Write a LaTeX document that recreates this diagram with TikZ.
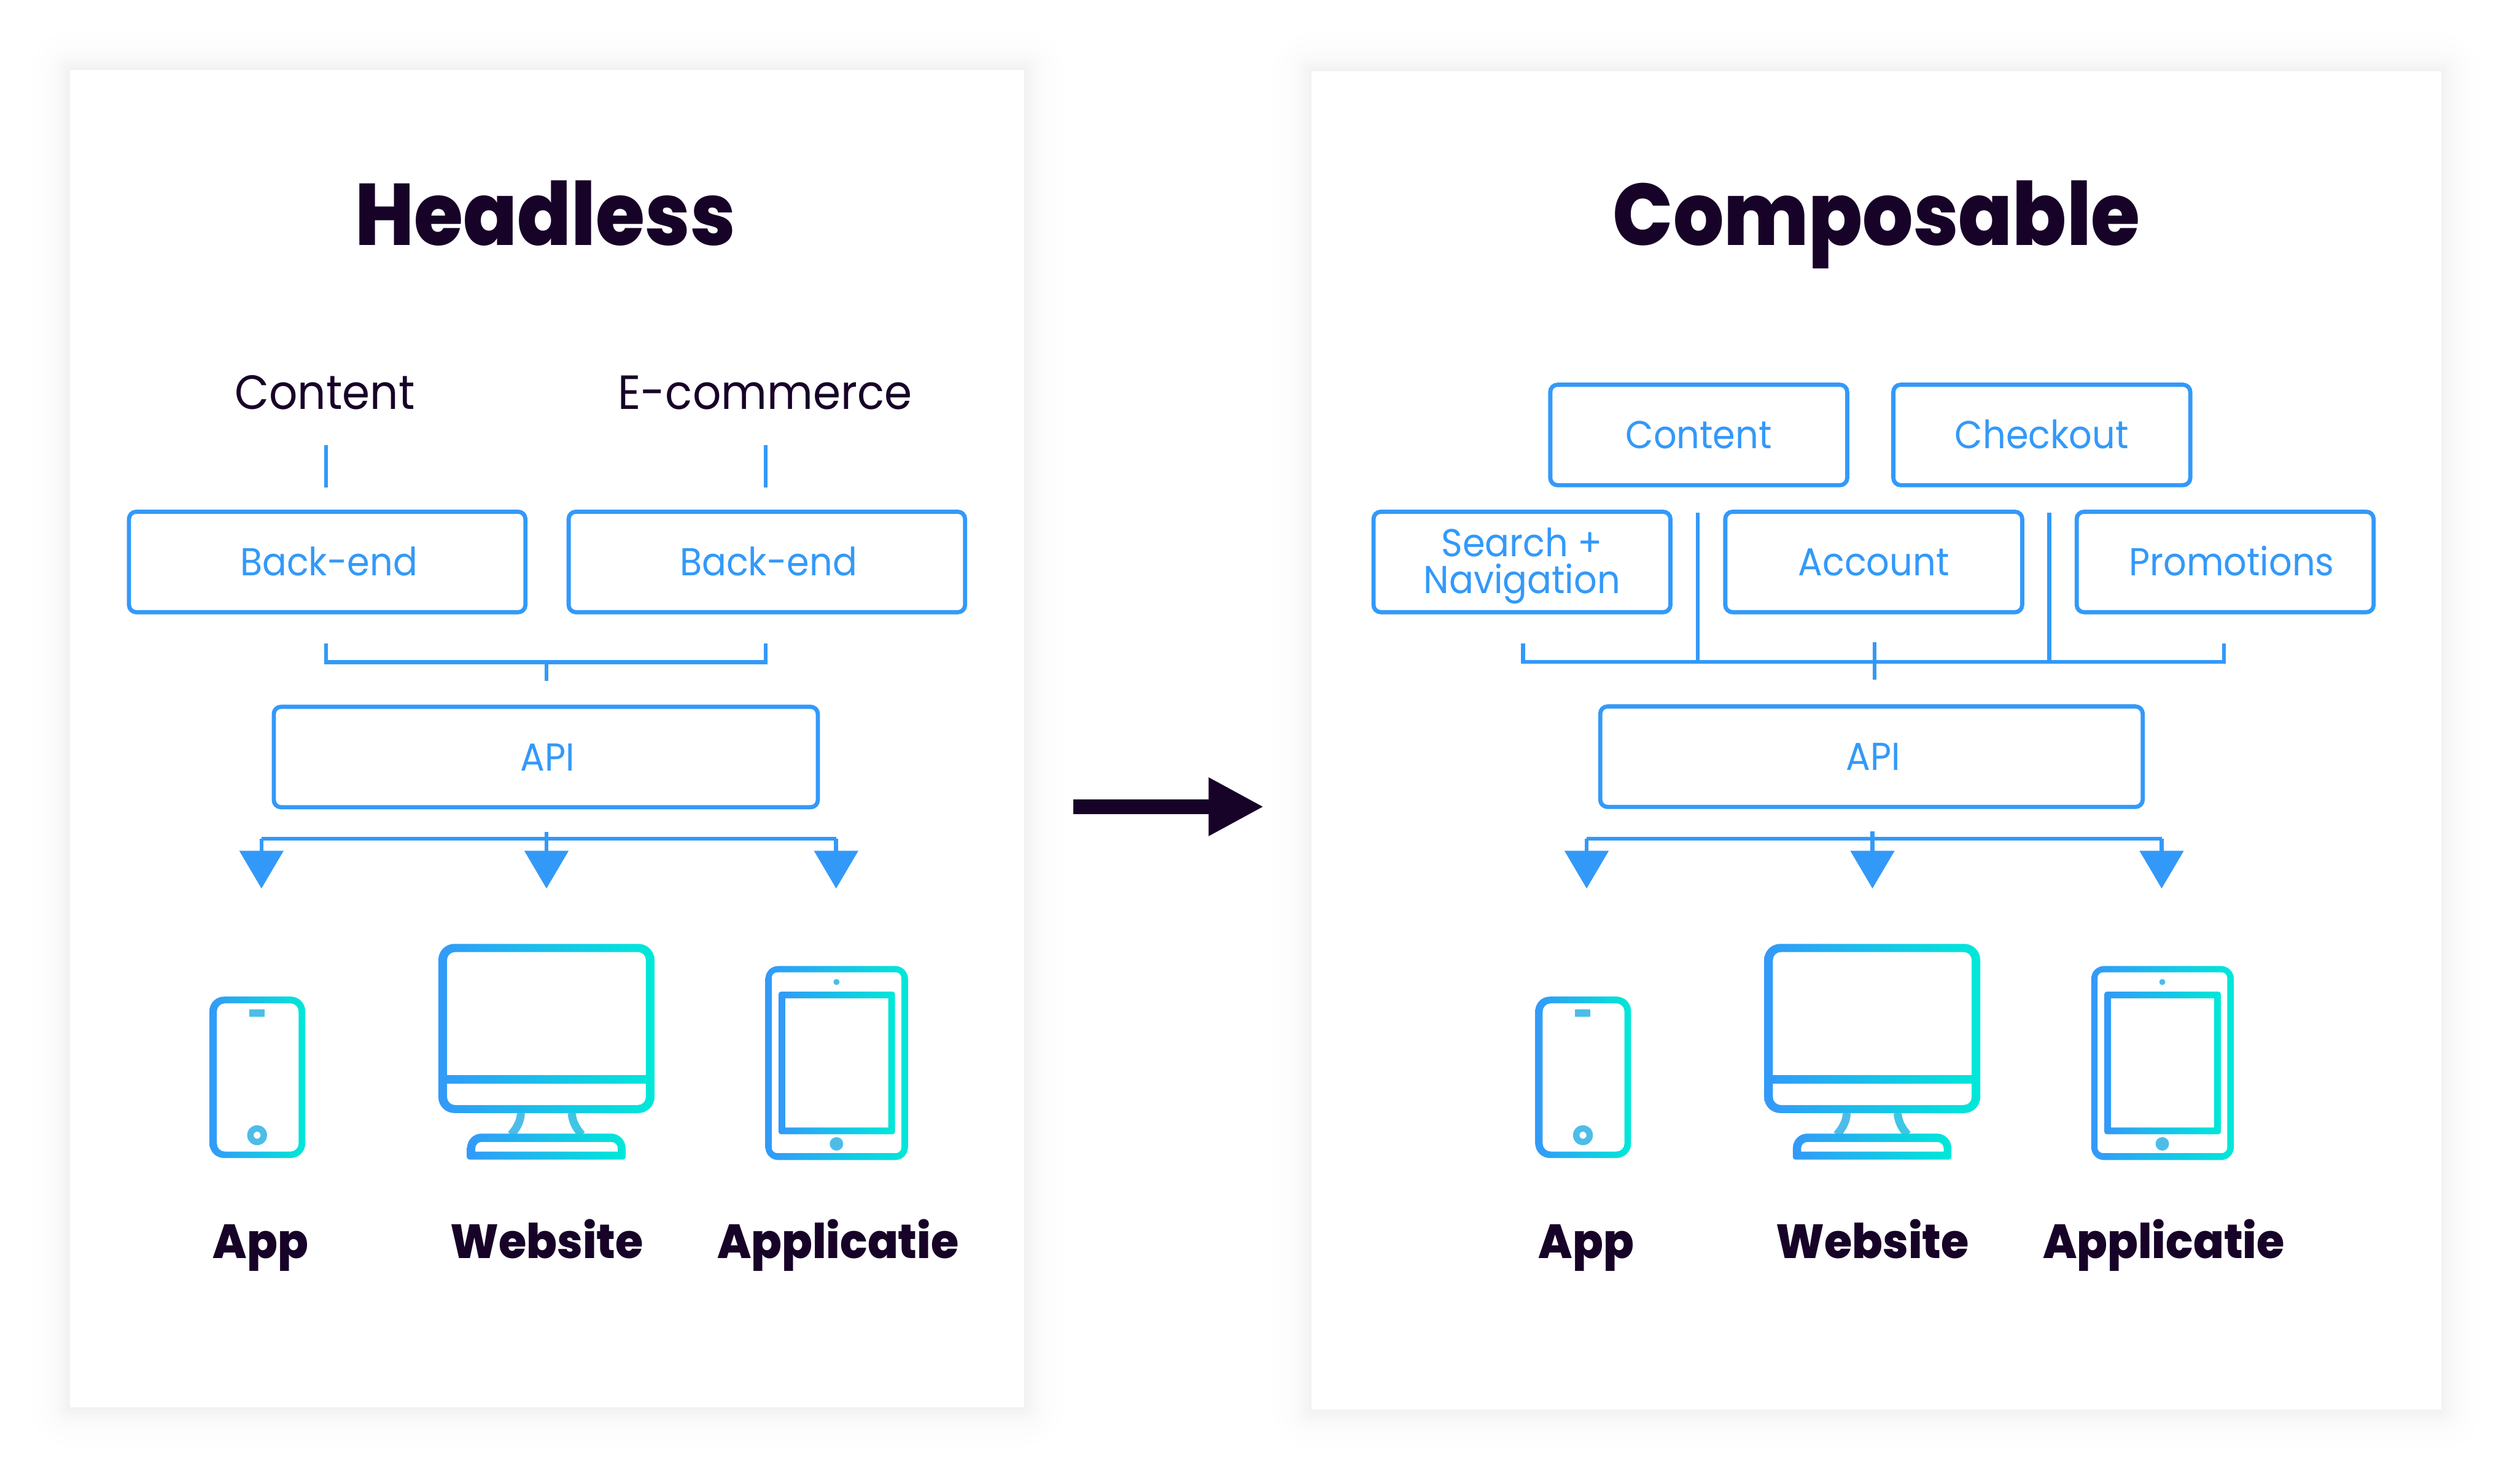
\documentclass[tikz,border=0pt]{standalone}
\usepackage{fontspec}
\setmainfont{Poppins}
\newfontfamily\titlefont{Poppins}[UprightFont=* ExtraBold,FakeStretch=.91]
\newfontfamily\devicefont{Poppins}[UprightFont=* ExtraBold,FakeStretch=.94]
\newfontfamily\labelfont{Poppins}[FakeStretch=.93]
\usepackage{tikz}
\usetikzlibrary{arrows.meta}
\definecolor{ink}{HTML}{170228}
\definecolor{lineblue}{HTML}{3399F9}
\definecolor{iconend}{HTML}{00E8D8}
\definecolor{iconmid}{HTML}{4DBDE8}
\tikzstyle{panel}=[fill=white]
\tikzstyle{box}=[draw=lineblue,line width=.026cm,rounded corners=.045cm,minimum height=.626cm,inner sep=0pt,text=lineblue,align=center,font=\labelfont\fontsize{6.9}{6.5}\selectfont]
\tikzstyle{onebox}=[box,text height=.17cm,text depth=0pt]
\tikzstyle{wire}=[draw=lineblue,line width=.025cm]
\tikzstyle{drop}=[wire,-{Triangle[width=.27cm,length=.235cm]}]
\tikzstyle{grad}=[left color=lineblue,middle color=iconmid,right color=iconend,even odd rule]
\tikzstyle{titletext}=[anchor=base,inner sep=0pt,text=ink,font=\titlefont\fontsize{15.5}{15.5}\selectfont]
\tikzstyle{plaintext}=[anchor=base,inner sep=0pt,text=ink,font=\labelfont\fontsize{8.5}{8.5}\selectfont]
\tikzstyle{devicetext}=[anchor=base,inner sep=0pt,text=ink,font=\devicefont\fontsize{8.5}{8.5}\selectfont]

\newcommand{\panelshadow}[4]{
  \foreach \d in {1,2,3,4,5,6,7,8,10,12,15,19,24}
    \fill[black,opacity=.004,rounded corners=\d*.01cm] (#1-\d,#2-\d) rectangle (#3+\d,#4+\d);
}
\newcommand{\deviceicons}{
  % phone
  \shade[grad] (130.6,621.4) [rounded corners=.09cm] rectangle (190.3,722)
    (135.2,625.6) [rounded corners=.05cm] rectangle (186.2,718);
  \fill[iconmid] (155.5,629.3) rectangle (165,633.8);
  \fill[iconmid,even odd rule] (160.3,707.8) circle (6.2) (160.3,707.8) circle (2.2);
  % monitor
  \shade[grad] (273.3,588.5) [rounded corners=.1cm] rectangle (408,694)
    (278.7,670.4) [rounded corners=.05cm] -- (278.7,593.6) -- (402.7,593.6) [sharp corners] -- (402.7,670.4) -- cycle
    (278.7,675.6) -- (402.7,675.6) [rounded corners=.05cm] -- (402.7,689) -- (278.7,689) [sharp corners] -- cycle;
  \draw[iconmid,line width=.05cm] (324.8,694) .. controls (324.5,699) and (322.5,703) .. (318.6,707.5);
  \draw[iconmid!80!iconend,line width=.05cm] (356.5,694) .. controls (356.8,699) and (358.8,703) .. (362.7,707.5);
  \shade[grad] (291.2,723) [rounded corners=.09cm] -- (291.2,706.8) -- (390,706.8) [rounded corners=.015cm] -- (390,723) -- cycle
    (296.3,718) [rounded corners=.04cm] -- (296.3,712) -- (385.2,712) [sharp corners] -- (385.2,718) -- cycle;
  % tablet
  \shade[grad] (477.2,602.3) [rounded corners=.08cm] rectangle (566.1,723.3)
    (481.1,606.2) [rounded corners=.035cm] rectangle (562,719);
  \shade[grad] (485.4,618.3) [rounded corners=.015cm] rectangle (558,707.2)
    (489.6,622.4) [sharp corners] rectangle (553.8,703);
  \fill[iconmid] (521.5,612.3) circle (1.9);
  \fill[iconmid] (521.5,713.2) circle (4.2);
}

\begin{document}
\begin{tikzpicture}[x=.01cm,y=-.01cm]
  \useasboundingbox (0,0) rectangle (1568,925);

  \panelshadow{43.6}{43.6}{638.5}{877.5}
  \panelshadow{817.7}{44.6}{1522}{878.8}
  \fill[panel] (43.6,43.6) rectangle (638.5,877.5);
  \fill[panel] (817.7,44.6) rectangle (1522,878.8);

  % left side
  \node[titletext] (headless) at (340,152.8) {Headless};
  \node[plaintext] (content) at (202.5,255) {Content};
  \node[plaintext] (ecommerce) at (477,255) {E-commerce};
  \node[onebox,minimum width=2.47cm] (back1) at (204,350.4) {\hspace*{.02cm}Back-end};
  \node[onebox,minimum width=2.47cm] (back2) at (478.1,350.4) {\hspace*{.02cm}Back-end};
  \node[onebox,minimum width=3.39cm] (api) at (340.3,472) {\hspace*{.02cm}API};
  \node[devicetext] (app) at (162.5,784.6) {App};
  \node[devicetext] (website) at (341,784.6) {Website};
  \node[devicetext] (applicatie) at (522.5,784.6) {Applicatie};

  \coordinate (tick1) at (203.3,277.6);
  \coordinate (tick2) at (477.4,277.6);
  \coordinate (foot1) at (203.3,412.8);
  \coordinate (foot2) at (477.4,412.8);
  \coordinate (foot3) at (340.7,412.8);
  \coordinate (bar1) at (163,523);
  \coordinate (bar2) at (340.7,523);
  \coordinate (bar3) at (521.3,523);
  \coordinate (tip1) at (163,554);
  \coordinate (tip2) at (340.7,554);
  \coordinate (tip3) at (521.3,554);

  \draw[wire,shorten >=.14cm] (tick1) -- (tick1 |- back1.north);
  \draw[wire,shorten >=.14cm] (tick2) -- (tick2 |- back2.north);
  \draw[wire,shorten <=.18cm,shorten >=.18cm] (foot1 |- back1.south) -- (foot1) -- (foot2) -- (foot2 |- back2.south);
  \draw[wire,shorten >=.15cm] (foot3) -- (foot3 |- api.north);
  \draw[wire,shorten <=.14cm] (bar2 |- api.south) -- (bar2);
  \draw[wire] (bar1) -- (bar3);
  \draw[drop] (bar1) -- (tip1);
  \draw[drop] (bar2) -- (tip2);
  \draw[drop] (bar3) -- (tip3);

  \deviceicons

  % right side
  \node[titletext] (composable) at (1170,152.8) {Composable};
  \node[onebox,minimum width=1.85cm] (content2) at (1059.1,271.2) {Content};
  \node[onebox,minimum width=1.85cm] (checkout) at (1273,271.2) {Checkout};
  \node[box,minimum width=1.85cm,text height=.392cm,text depth=0pt] (search) at (948.9,350.4) {Search +\\Navigation};
  \node[onebox,minimum width=1.85cm] (account) at (1168.2,350.4) {Account};
  \node[onebox,minimum width=1.85cm] (promotions) at (1387.3,350.4) {\hspace*{.08cm}Promotions};
  \node[onebox,minimum width=3.38cm] (api2) at (1166.8,471.8) {\hspace*{.02cm}API};
  \node[devicetext] (app2) at (989,784.6) {App};
  \node[devicetext] (website2) at (1167.5,784.6) {Website};
  \node[devicetext] (applicatie2) at (1349,784.6) {Applicatie};

  \coordinate (rail1) at (949.6,412.6);
  \coordinate (rail2) at (1058.5,412.6);
  \coordinate (rail3) at (1168.7,412.6);
  \coordinate (rail4) at (1277.6,412.6);
  \coordinate (rail5) at (1386.5,412.6);
  \coordinate (post2) at (1058.5,319.7);
  \coordinate (post3) at (1168.7,400.4);
  \coordinate (post4) at (1277.6,319.7);
  \coordinate (bar4) at (989.2,523);
  \coordinate (bar5) at (1167.4,523);
  \coordinate (bar6) at (1347.7,523);
  \coordinate (tip4) at (989.2,554);
  \coordinate (tip5) at (1167.4,554);
  \coordinate (tip6) at (1347.7,554);

  \draw[wire,shorten <=.18cm,shorten >=.18cm] (rail1 |- search.south) -- (rail1) -- (rail5) -- (rail5 |- promotions.south);
  \draw[wire] (post2) -- (rail2);
  \draw[wire] (post4) -- (rail4);
  \draw[wire,shorten >=.155cm] (post3) -- (post3 |- api2.north);
  \draw[wire,shorten <=.14cm] (bar5 |- api2.south) -- (bar5);
  \draw[wire] (bar4) -- (bar6);
  \draw[drop] (bar4) -- (tip4);
  \draw[drop] (bar5) -- (tip5);
  \draw[drop] (bar6) -- (tip6);

  \begin{scope}[shift={(826.6,0)}]
    \deviceicons
  \end{scope}

  % arrow between the panels
  \coordinate (arrowstart) at (669.2,503);
  \coordinate (arrowtip) at (788,503);
  \draw[ink,line width=.089cm,-{Triangle[width=.34cm,length=.345cm]}] (arrowstart) -- (arrowtip);
\end{tikzpicture}
\end{document}
